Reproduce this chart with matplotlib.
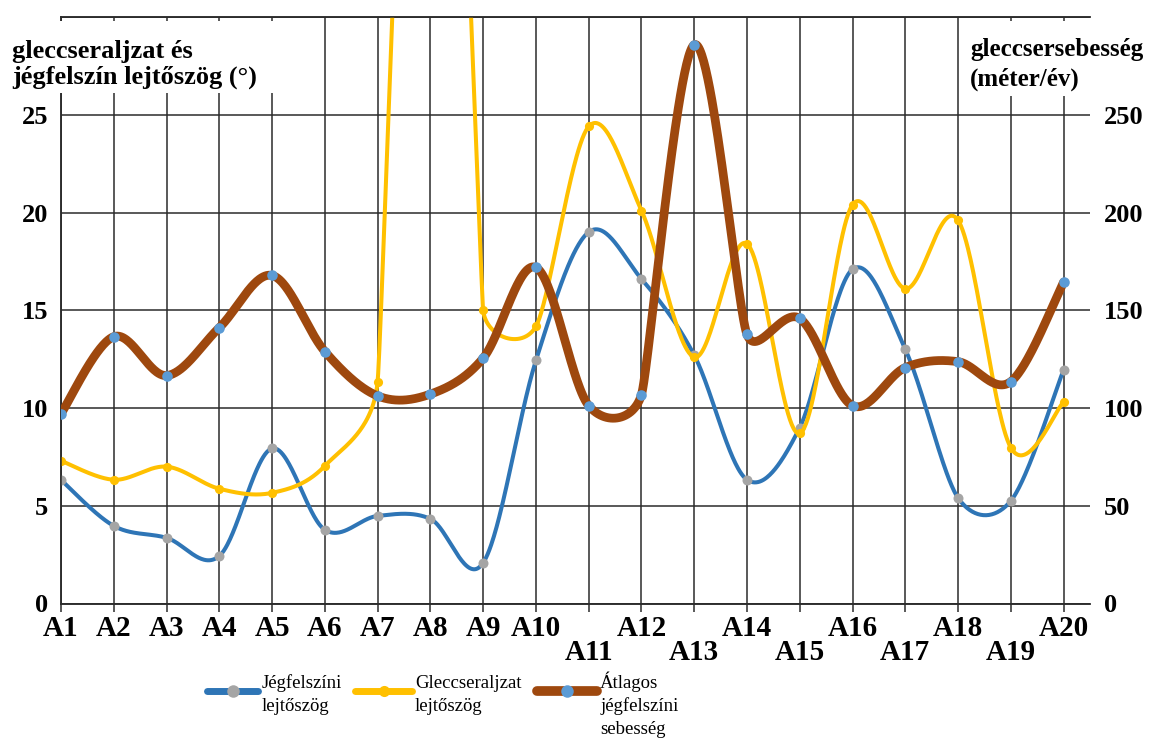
import numpy as np
import matplotlib
matplotlib.use("Agg")
import matplotlib.pyplot as plt
import matplotlib.transforms as mtransforms
from matplotlib.lines import Line2D
from matplotlib.patches import Rectangle

# ---------------- data ----------------
categories = ["A1", "A2", "A3", "A4", "A5", "A6", "A7", "A8", "A9", "A10",
              "A11", "A12", "A13", "A14", "A15", "A16", "A17", "A18", "A19", "A20"]
surface_slope = [6.32, 3.97, 3.36, 2.43, 7.93, 3.77, 4.48, 4.33, 2.08, 12.43,
                 19.0, 16.6, 12.7, 6.33, 9.0, 17.1, 13.0, 5.4, 5.25, 11.95]
bed_slope = [7.3, 6.33, 7.0, 5.87, 5.66, 7.04, 11.35, 65.0, 15.0, 14.17,
             24.4, 20.1, 12.6, 18.4, 8.7, 20.4, 16.1, 19.6, 7.97, 10.3]
velocity = [97.1, 136.5, 116.6, 141.1, 167.8, 128.9, 106.2, 107.1, 125.5, 171.9,
            101.2, 106.8, 285.8, 137.6, 145.8, 101.2, 120.7, 123.7, 113.5, 164.4]
left_ticks = [0, 5, 10, 15, 20, 25]
right_ticks = [0, 50, 100, 150, 200, 250]
series_names = ["Jégfelszíni\nlejtőszög", "Gleccseraljzat\nlejtőszög",
                "Átlagos\njégfelszíni\nsebesség"]
left_title = "gleccseraljzat és\njégfelszín lejtőszög (°)"
right_title = "gleccsersebesség\n(méter/év)"

# ---------------- layout ----------------
W, H = 1170, 741
AX_L, AX_R, AX_T, AX_B = 61, 1090, 17, 603.5
XMAX, YMAX_L, YMAX_R = 19.5, 30, 300


def fx(px):
    return px / W


def fy(py):
    return 1 - py / H


SERIF = "Liberation Serif"
BLUE, YELLOW, BROWN = "#2E75B6", "#FFC000", "#9E480E"
GREY_M, BLUE_M = "#A5A5A5", "#5B9BD5"
GRID = "#2b2b2b"


def excel_smooth(xs, ys, sx, sy, n=60):
    """Excel-like smoothed Bezier curve, computed in pixel space."""
    P = np.column_stack([np.asarray(xs, float) * sx, np.asarray(ys, float) * sy])
    N = len(P)
    cin = P.copy()
    cout = P.copy()
    for i in range(N):
        prev = P[i - 1] if i > 0 else P[i]
        nxt = P[i + 1] if i < N - 1 else P[i]
        T = nxt - prev
        nT = np.hypot(*T)
        if nT == 0:
            continue
        L = nT / 6
        if i > 0:
            L = min(L, np.hypot(*(P[i] - prev)) / 2)
        if i < N - 1:
            L = min(L, np.hypot(*(nxt - P[i])) / 2)
        u = T / nT
        cin[i] = P[i] - L * u
        cout[i] = P[i] + L * u
    t = np.linspace(0, 1, n)[:, None]
    pts = []
    for i in range(N - 1):
        b = ((1 - t) ** 3 * P[i] + 3 * (1 - t) ** 2 * t * cout[i]
             + 3 * (1 - t) * t ** 2 * cin[i + 1] + t ** 3 * P[i + 1])
        pts.append(b if i == 0 else b[1:])
    pts = np.vstack(pts)
    return pts[:, 0] / sx, pts[:, 1] / sy


fig = plt.figure(figsize=(W / 100, H / 100), dpi=100)
ax = fig.add_axes([fx(AX_L), fy(AX_B), (AX_R - AX_L) / W, (AX_B - AX_T) / H])
ax2 = ax.twinx()

sx = (AX_R - AX_L) / XMAX
sy_l = (AX_B - AX_T) / YMAX_L
sy_r = (AX_B - AX_T) / YMAX_R

x = np.arange(len(categories))

ax.set_xlim(0, XMAX)
ax.set_ylim(0, YMAX_L)
ax2.set_ylim(0, YMAX_R)

# grid
ax.set_yticks(left_ticks + [30])
ax.set_yticklabels([str(v) for v in left_ticks] + [""])
ax.set_xticks(x)
ax.set_xticklabels([])
ax.grid(True, color=GRID, linewidth=1.1)
ax.tick_params(axis="x", direction="out", length=6, width=1.1, color=GRID)
ax.tick_params(axis="y", length=0, pad=9, labelsize=19)
for lab in ax.get_yticklabels():
    lab.set_fontfamily(SERIF)
    lab.set_fontweight("bold")
ax2.set_yticks(right_ticks)
ax2.set_yticklabels([str(v) for v in right_ticks])
ax2.tick_params(axis="y", length=0, pad=10, labelsize=19)
for lab in ax2.get_yticklabels():
    lab.set_fontfamily(SERIF)
    lab.set_fontweight("bold")
for a in (ax, ax2):
    a.spines["right"].set_visible(False)
    a.spines["top"].set_color(GRID)
    a.spines["left"].set_color(GRID)
    a.spines["bottom"].set_color(GRID)
    for s in a.spines.values():
        s.set_linewidth(1.1)
ax.set_axisbelow(True)

# series
bx, by = excel_smooth(x, surface_slope, sx, sy_l)
ax.plot(bx, by, color=BLUE, lw=2.9, zorder=3, solid_capstyle="round")
ax.plot(x, surface_slope, "o", ms=7.2, color=GREY_M, mec="none", zorder=3.1)

yx, yy = excel_smooth(x, bed_slope, sx, sy_l)
ax.plot(yx, yy, color=YELLOW, lw=2.9, zorder=4, solid_capstyle="round")
ax.plot(x, bed_slope, "o", ms=6.6, color=YELLOW, mec="none", zorder=4.1)

rx, ry = excel_smooth(x, velocity, sx, sy_r)
ax2.plot(rx, ry, color=BROWN, lw=6.3, zorder=5, solid_capstyle="round")
ax2.plot(x, velocity, "o", ms=7.6, color=BLUE_M, mec="none", zorder=5.1)

# x category labels (staggered)
trans = mtransforms.blended_transform_factory(ax.transData, fig.transFigure)
for i, lab in enumerate(categories):
    upper = i < 10 or i % 2 == 1
    ypx = 629 if upper else 652
    ax.text(i, fy(ypx), lab, transform=trans, ha="center", va="center",
            fontsize=21, fontweight="bold", family=SERIF, clip_on=False)

# axis titles on white boxes
fig.add_artist(Rectangle((fx(5), fy(93)), fx(272), (93 - 21) / H,
                         transform=fig.transFigure, facecolor="white",
                         edgecolor="none", zorder=10))
fig.text(fx(12), fy(58), left_title.split("\n")[0], ha="left", va="baseline",
         fontsize=19, fontweight="bold", family=SERIF, zorder=11)
fig.text(fx(12), fy(84), left_title.split("\n")[1], ha="left", va="baseline",
         fontsize=19, fontweight="bold", family=SERIF, zorder=11)
fig.add_artist(Rectangle((fx(965), fy(96)), fx(200), (96 - 21) / H,
                         transform=fig.transFigure, facecolor="white",
                         edgecolor="none", zorder=10))
fig.text(fx(970), fy(56), right_title.split("\n")[0], ha="left", va="baseline",
         fontsize=18, fontweight="bold", family=SERIF, zorder=11)
fig.text(fx(970), fy(86), right_title.split("\n")[1], ha="left", va="baseline",
         fontsize=18, fontweight="bold", family=SERIF, zorder=11)

# legend (manual, bottom)
leg = [
    (207, 258, BLUE, GREY_M, 5.0, 9.0, 262),
    (355, 412, YELLOW, YELLOW, 5.0, 8.0, 415),
    (537, 597, BROWN, BLUE_M, 7.0, 9.0, 600),
]
for (x0, x1, lc, mc, lw, ms, tx), name in zip(leg, series_names):
    fig.add_artist(Line2D([fx(x0), fx(x1)], [fy(691), fy(691)],
                          transform=fig.transFigure, color=lc, lw=lw,
                          solid_capstyle="round"))
    fig.add_artist(Line2D([fx((x0 + x1) / 2)], [fy(691)], transform=fig.transFigure,
                          marker="o", ms=ms, color=mc, mec="none", lw=0))
    for k, line in enumerate(name.split("\n")):
        fig.text(fx(tx), fy(688 + 23 * k), line, ha="left", va="baseline",
                 fontsize=13.5, family=SERIF)

fig.savefig("out.png", dpi=100)
